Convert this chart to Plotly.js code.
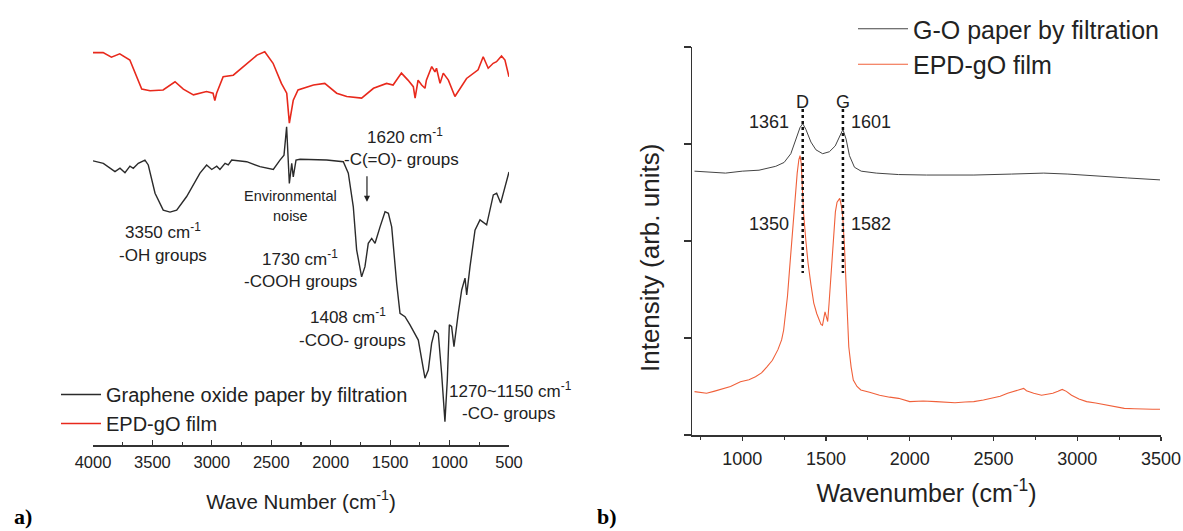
<!DOCTYPE html>
<html><head><meta charset="utf-8">
<script src="https://cdn.plot.ly/plotly-3.0.1.min.js"></script>
<style>html,body{margin:0;padding:0;background:#fff}#chart{width:1183px;height:531px}</style>
</head><body><div id="chart"></div>
<script>
// ---------- data: panel a (FTIR) ----------
const ftirGoWn = [4000,3913,3815,3773,3731,3689,3661,3619,3563,3535,3478,3409,3352,3296,3212,3100,3044,3001,2959,2932,2889,2862,2833,2707,2595,2483,2427,2393,2371,2348,2328,2315,2292,2258,2034,1894,1852,1810,1782,1740,1712,1684,1655,1627,1585,1543,1515,1487,1445,1417,1375,1333,1263,1235,1207,1179,1151,1123,1095,1067,1039,1019,1002,983,963,927,898,870,856,828,786,744,688,632,604,570,534,500];
const ftirGoT  = [69.3,68.7,66.7,67.5,66.4,68.0,67.5,68.7,69.5,68.3,61.4,57.3,56.8,57.3,60.6,66.3,68.3,67.2,68.0,67.2,68.7,68.3,69.5,69.1,67.9,67.2,69.5,70.7,77.6,63.8,68.7,65.4,69.5,69.7,69.5,69.1,66.3,58.1,47.6,41.0,43.5,49.2,50.4,49.2,53.2,56.9,56.5,53.2,39.4,32.1,31.3,29.3,25.6,20.7,16.3,18.3,24.8,28.0,27.2,17.5,5.7,15.9,29.3,28.9,24.0,32.1,37.8,40.7,36.6,43.5,52.4,54.9,53.7,61.0,61.4,59.0,63.0,66.6];
const ftirEpdWn = [4000,3915,3845,3775,3690,3590,3520,3410,3310,3240,3155,3045,2990,2975,2960,2905,2820,2705,2620,2555,2485,2415,2370,2348,2315,2275,2145,2050,1950,1865,1740,1640,1530,1475,1405,1350,1305,1290,1265,1235,1207,1195,1150,1123,1110,1080,1053,1010,955,857,760,717,675,633,605,563,534,500];
const ftirEpdT  = [95.7,95.7,94.6,95.4,93.9,86.8,86.4,86.6,88.6,86.8,85.4,86.2,85.8,84.0,85.8,89.8,90.2,93.1,95.1,95.9,93.1,88.2,85.8,78.5,84.1,86.6,87.8,88.2,85.8,85.0,84.6,87.0,88.2,87.8,90.7,89.0,87.4,84.6,89.0,87.8,87.0,89.0,92.3,91.0,91.9,88.2,90.7,89.0,85.0,89.4,91.5,94.7,91.9,93.1,93.5,94.9,93.9,89.8];
const ftirTickVals = [4000,3500,3000,2500,2000,1500,1000,500];
const ftirSeriesNames = ["Graphene oxide paper by filtration","EPD-gO film"];

// ---------- data: panel b (Raman) ----------
const ramanGoWn = [715,800,900,1000,1100,1200,1250,1290,1320,1345,1361,1380,1410,1440,1480,1520,1555,1580,1601,1620,1640,1670,1710,1800,1933,2100,2383,2607,2800,2944,3100,3169,3300,3494];
const ramanGoI  = [2.72,2.71,2.70,2.72,2.73,2.77,2.81,2.90,3.05,3.17,3.21,3.15,3.02,2.94,2.90,2.92,2.98,3.08,3.15,3.05,2.88,2.76,2.72,2.70,2.685,2.68,2.68,2.69,2.70,2.69,2.67,2.66,2.65,2.63];
const ramanEpdWn = [715,750,787,830,876,930,989,1040,1079,1115,1146,1180,1213,1235,1247,1260,1270,1282,1292,1305,1315,1328,1338,1345,1352,1358,1366,1380,1393,1410,1427,1445,1461,1470,1479,1487,1494,1502,1510,1518,1528,1538,1546,1556,1566,1574,1582,1592,1600,1610,1618,1627,1636,1650,1663,1685,1708,1760,1820,1880,1933,2000,2080,2157,2220,2270,2330,2382,2440,2494,2540,2584,2620,2652,2680,2697,2740,2787,2820,2854,2885,2910,2935,2966,3010,3056,3110,3169,3230,3281,3340,3393,3450,3494];
const ramanEpdI  = [0.447,0.44,0.43,0.45,0.47,0.50,0.55,0.57,0.60,0.64,0.70,0.77,0.88,0.98,1.08,1.25,1.43,1.70,1.94,2.22,2.46,2.70,2.84,2.88,2.80,2.60,2.29,2.00,1.77,1.55,1.36,1.25,1.19,1.14,1.13,1.22,1.27,1.22,1.17,1.35,1.60,1.88,2.11,2.30,2.40,2.42,2.44,2.36,2.25,1.95,1.60,1.25,0.91,0.70,0.567,0.50,0.464,0.44,0.41,0.39,0.378,0.344,0.35,0.344,0.34,0.333,0.34,0.344,0.36,0.378,0.40,0.43,0.45,0.47,0.48,0.457,0.43,0.41,0.42,0.43,0.45,0.47,0.45,0.41,0.37,0.344,0.33,0.31,0.29,0.275,0.27,0.265,0.265,0.265];
const ramanTickVals = [1000,1500,2000,2500,3000,3500];
const ramanSeriesNames = ["G-O paper by filtration","EPD-gO film"];
const ramanPeakPos = [1361,1601];          // D, G (dotted guide lines)
const ramanPeakNames = ["D","G"];
const ramanGoPeakLabels = ["1361","1601"];
const ramanEpdPeakLabels = ["1350","1582"];

// ---------- layout helpers ----------
const W = 1183, H = 531;
const px = x => x / W;
const py = y => 1 - y / H;
const FONT = "Liberation Sans, Arial, sans-serif";
const TXT = "#222";

const traces = [
  {x: ftirGoWn, y: ftirGoT, xaxis:'x', yaxis:'y', mode:'lines', name: ftirSeriesNames[0],
   line:{color:'#2b2b2b', width:1.4}, legend:'legend'},
  {x: ftirEpdWn, y: ftirEpdT, xaxis:'x', yaxis:'y', mode:'lines', name: ftirSeriesNames[1],
   line:{color:'#e8291c', width:1.6}, legend:'legend'},
  {x: ramanGoWn, y: ramanGoI, xaxis:'x2', yaxis:'y2', mode:'lines', name: ramanSeriesNames[0],
   line:{color:'#444', width:1}, legend:'legend2'},
  {x: ramanEpdWn, y: ramanEpdI, xaxis:'x2', yaxis:'y2', mode:'lines', name: ramanSeriesNames[1],
   line:{color:'#f0603a', width:1.1}, legend:'legend2'}
];

const ann = [];
function t(text, x, y, size, xanchor, extra) {
  ann.push(Object.assign({text, x: px(x), y: py(y), xref:'paper', yref:'paper', showarrow:false,
    xanchor: xanchor || 'center', yanchor:'middle', font:{family:FONT, size, color:TXT}}, extra || {}));
}
// panel a annotations
t("1620 cm<sup>-1</sup>", 405, 136, 17);
t("-C(=O)- groups", 401, 159, 17);
t("Environmental", 290, 196, 14.5);
t("noise", 290, 216, 14.5);
t("3350 cm<sup>-1</sup>", 163, 231, 17);
t("-OH groups", 163, 255, 17);
t("1730 cm<sup>-1</sup>", 300, 258, 17);
t("-COOH groups", 300, 281, 17);
t("1408 cm<sup>-1</sup>", 348, 316, 17);
t("-COO- groups", 352, 340, 17);
t("1270~1150 cm<sup>-1</sup>", 510, 390, 17);
t("-CO- groups", 509, 413, 17);
// arrow for 1620
ann.push({x: 1695, y: 59.3, xref:'x', yref:'y', text:'', showarrow:true, arrowhead:2, arrowsize:1,
  arrowwidth:1.2, arrowcolor:'#222', ax:0, ay:-27});
// panel b annotations
t(ramanGoPeakLabels[0], 791, 122, 18, 'right');
t(ramanEpdPeakLabels[0], 791, 224, 18, 'right');
t(ramanGoPeakLabels[1], 849, 122, 18, 'left');
t(ramanEpdPeakLabels[1], 849, 224, 18, 'left');
ramanPeakPos.forEach((p, i) => ann.push({x: p, y: 3.43, xref:'x2', yref:'y2', text: ramanPeakNames[i],
  showarrow:false, font:{family:FONT, size:18, color:TXT}, yanchor:'middle'}));
// y title of panel b
t("Intensity (arb. units)", 650, 258, 26, 'center', {textangle:-90});
// panel labels
const labFont = {family:"Liberation Serif, Times New Roman, serif", size:22, color:'#000', weight:'bold'};
t("a)", 12, 531, 22, 'left', {yanchor:'bottom', font:labFont});
t("b)", 595, 531, 22, 'left', {yanchor:'bottom', font:labFont});

const shapes = ramanPeakPos.map(p => ({type:'line', xref:'x2', yref:'y2', x0:p, x1:p, y0:3.36, y1:1.67,
  line:{color:'#111', width:2.5, dash:'dot'}}));

const layout = {
  width: W, height: H, margin:{l:0,r:0,t:0,b:0}, paper_bgcolor:'#fff', plot_bgcolor:'rgba(0,0,0,0)',
  font:{family:FONT, color:TXT},
  showlegend:true,
  xaxis:{domain:[px(93), px(509)], range:[4000,500], anchor:'y', tickvals: ftirTickVals,
    ticks:'inside', ticklen:5, tickwidth:1.2, tickcolor:'#333', showline:true, linecolor:'#333', linewidth:1.5,
    showgrid:false, zeroline:false, tickfont:{size:16.5, color:TXT}, ticklabelstandoff:2,
    minor:{dtick:250, tick0:0, ticks:'inside', ticklen:3, tickcolor:'#333', showgrid:false},
    title:{text:"Wave Number (cm<sup>-1</sup>)", font:{size:20.5, color:TXT}, standoff:24}},
  yaxis:{domain:[py(445), py(35)], range:[0,100], anchor:'x', visible:false},
  xaxis2:{domain:[px(692), px(1161)], range:[700,3500], anchor:'y2', tickvals: ramanTickVals,
    ticks:'outside', ticklen:4, tickwidth:1.2, tickcolor:'#333', showline:true, linecolor:'#333', linewidth:1.5,
    showgrid:false, zeroline:false, tickfont:{size:18, color:TXT}, ticklabelstandoff:3,
    minor:{dtick:250, tick0:0, ticks:'outside', ticklen:3, tickcolor:'#333', showgrid:false},
    title:{text:"Wavenumber (cm<sup>-1</sup>)", font:{size:25, color:TXT}, standoff:16}},
  yaxis2:{domain:[py(435), py(47)], range:[0,4], anchor:'x2', dtick:1, showticklabels:false,
    ticks:'outside', ticklen:7, tickwidth:1.2, tickcolor:'#333', showline:true, linecolor:'#333', linewidth:1.5,
    showgrid:false, zeroline:false},
  legend:{x:px(56), y:py(375), xanchor:'left', yanchor:'top', bgcolor:'rgba(0,0,0,0)',
    font:{size:20, color:TXT}, itemwidth:40, tracegroupgap:0},
  legend2:{x:px(853), y:py(6), xanchor:'left', yanchor:'top', bgcolor:'rgba(0,0,0,0)',
    font:{size:25, color:TXT}, itemwidth:50, tracegroupgap:0},
  annotations: ann,
  shapes: shapes
};

Plotly.newPlot('chart', traces, layout, {staticPlot:true, displayModeBar:false});
</script></body></html>
